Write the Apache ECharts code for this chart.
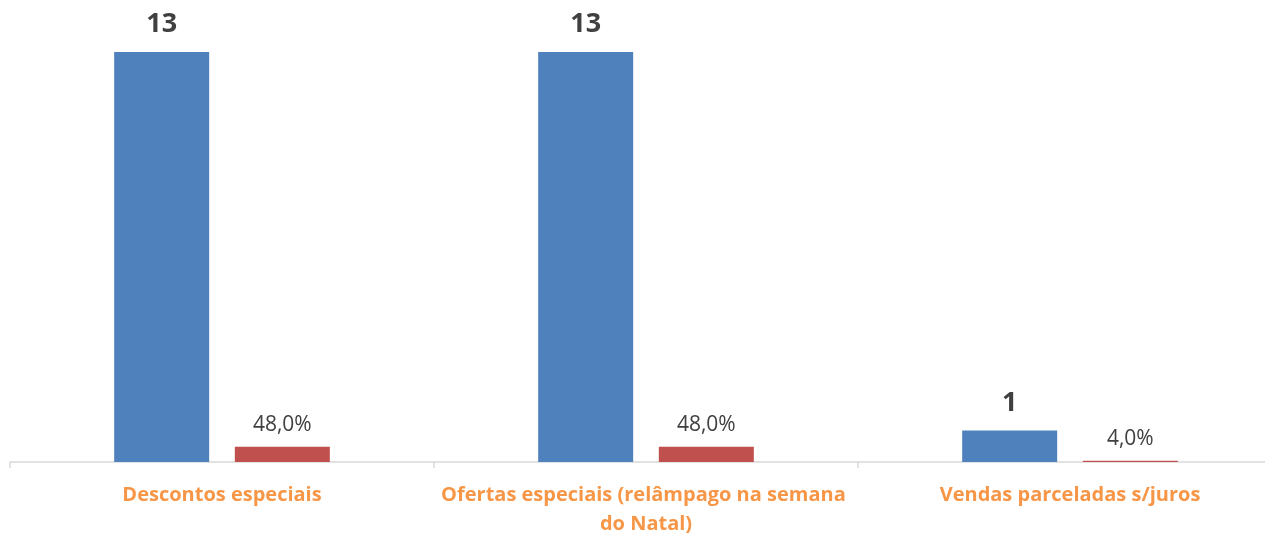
<!DOCTYPE html>
<html>
<head>
<meta charset="utf-8">
<script src="https://cdn.jsdelivr.net/npm/echarts@6/dist/echarts.min.js"></script>
<style>
  html, body { margin: 0; padding: 0; background: #fff; }
  #chart { width: 1265px; height: 533px; }
</style>
</head>
<body>
<div id="chart"></div>
<script>
const categories = ['Descontos especiais', 'Ofertas especiais (relâmpago na semana do Natal)', 'Vendas parceladas s/juros']
const counts = [13, 13, 1]
const shares = [0.48, 0.48, 0.04]

const chart = echarts.init(document.getElementById('chart'))
chart.setOption({
  animation: false,
  grid: { left: 10, width: 1272, top: 20.5, height: 441.5, outerBoundsMode: 'none', containLabel: false },
  xAxis: {
    type: 'category', data: categories,
    axisLine: { lineStyle: { color: '#d9d9d9', width: 1.5 } },
    axisTick: { show: true, length: 6, lineStyle: { color: '#d9d9d9', width: 1.5 } },
    axisLabel: {
      interval: 0, margin: 19, width: 420, overflow: 'break', lineHeight: 29,
      color: '#f79646', fontFamily: 'Open Sans', fontWeight: 'bold', fontSize: 20,
    },
  },
  yAxis: { type: 'value', min: 0, max: 14, show: false, splitLine: { show: false } },
  series: [
    {
      type: 'bar', data: counts, barWidth: 95, barGap: '27%',
      itemStyle: { color: '#4f81bd' },
      label: {
        show: true, position: 'top', distance: 14,
        color: '#404040', fontFamily: 'Open Sans', fontWeight: 'bold', fontSize: 27,
      },
    },
    {
      type: 'bar', data: shares, barWidth: 95,
      itemStyle: { color: '#c0504d' },
      label: {
        show: true, position: 'top', distance: 11,
        color: '#404040', fontFamily: 'Open Sans', fontSize: 21,
        formatter: p => (p.value * 100).toFixed(1).replace('.', ',') + '%',
      },
    },
  ],
})
</script>
</body>
</html>
